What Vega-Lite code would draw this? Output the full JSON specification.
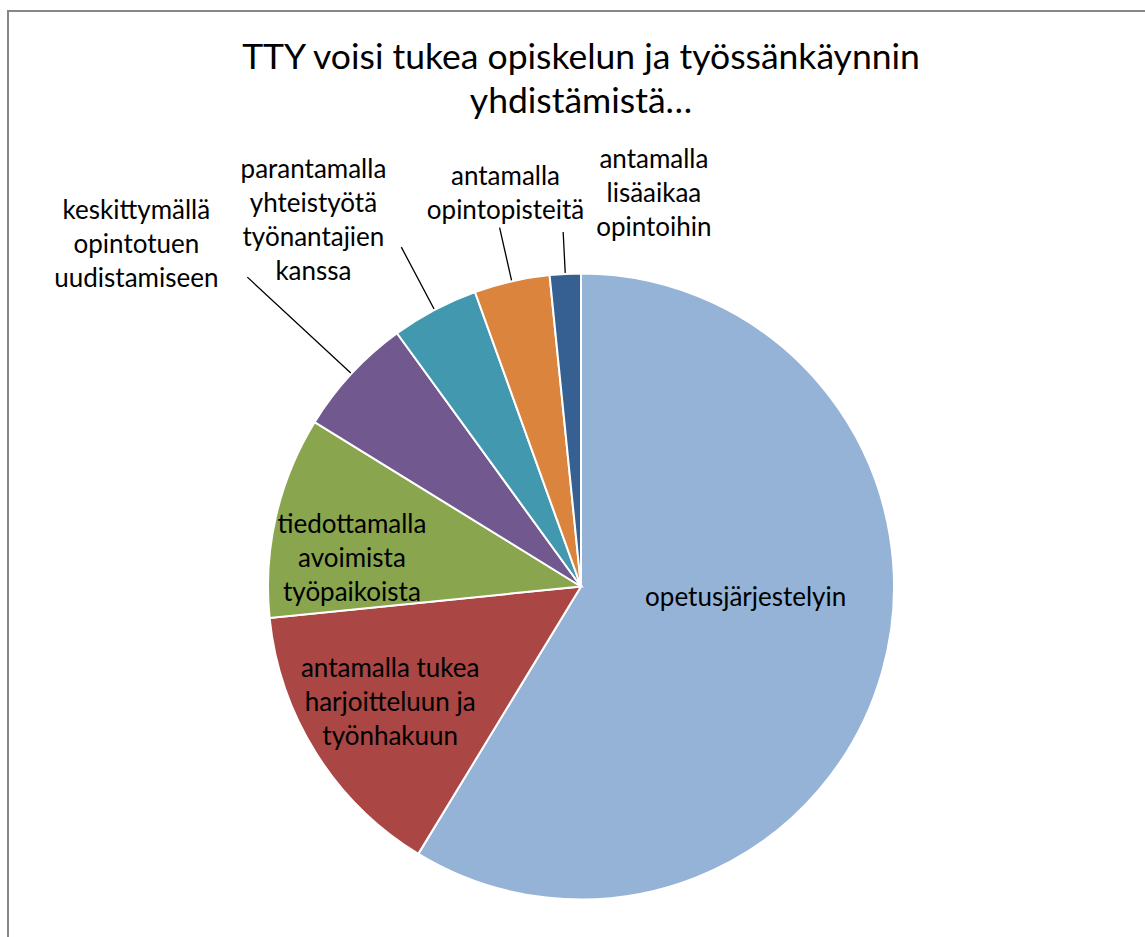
{
  "$schema": "https://vega.github.io/schema/vega-lite/v6.json",
  "autosize": "none",
  "width": 1146,
  "height": 1151,
  "padding": {"left": 8, "top": 11, "right": -9, "bottom": -225},
  "background": "white",
  "config": {
    "view": {"stroke": "#878787", "strokeWidth": 2},
    "style": {
      "view": {"stroke": "#878787", "strokeWidth": 2},
      "cell": {"stroke": "#878787", "strokeWidth": 2}
    },
    "text": {"font": "Lato", "fontSize": 26, "color": "black", "lineBreak": "\n", "lineHeight": 34}
  },
  "title": {
    "text": ["TTY voisi tukea opiskelun ja työssänkäynnin", "yhdistämistä…"],
    "font": "Lato",
    "fontSize": 35.5,
    "fontWeight": "normal",
    "color": "black",
    "anchor": "middle",
    "lineHeight": 44,
    "offset": -109
  },
  "data": {
    "values": [
      {"label": "opetusjärjestelyin", "text": "opetusjärjestelyin", "value": 58.7},
      {"label": "antamalla tukea harjoitteluun ja työnhakuun", "text": "antamalla tukea\nharjoitteluun ja\ntyönhakuun", "value": 14.7},
      {"label": "tiedottamalla avoimista työpaikoista", "text": "tiedottamalla\navoimista\ntyöpaikoista", "value": 10.4},
      {"label": "keskittymällä opintotuen uudistamiseen", "text": "keskittymällä\nopintotuen\nuudistamiseen", "value": 6.2},
      {"label": "parantamalla yhteistyötä työnantajien kanssa", "text": "parantamalla\nyhteistyötä\ntyönantajien\nkanssa", "value": 4.5},
      {"label": "antamalla opintopisteitä", "text": "antamalla\nopintopisteitä", "value": 3.9},
      {"label": "antamalla lisäaikaa opintoihin", "text": "antamalla\nlisäaikaa\nopintoihin", "value": 1.6}
    ]
  },
  "encoding": {
    "theta": {"field": "value", "type": "quantitative", "stack": true},
    "order": {"field": "value", "type": "quantitative", "sort": "descending"}
  },
  "layer": [
    {
      "mark": {"type": "arc", "radius": 313, "stroke": "white", "strokeWidth": 2},
      "encoding": {
        "color": {
          "field": "label",
          "type": "nominal",
          "legend": null,
          "scale": {
            "domain": ["opetusjärjestelyin", "antamalla tukea harjoitteluun ja työnhakuun", "tiedottamalla avoimista työpaikoista", "keskittymällä opintotuen uudistamiseen", "parantamalla yhteistyötä työnantajien kanssa", "antamalla opintopisteitä", "antamalla lisäaikaa opintoihin"],
            "range": ["#95B3D7", "#AA4643", "#89A54E", "#71588F", "#4198AF", "#DB843D", "#376092"]
          }
        }
      }
    },
    {
      "mark": {"type": "arc", "radius": 455, "radius2": 314, "padAngle": 1.4, "fillOpacity": 0, "stroke": "black", "strokeWidth": 1.3},
      "encoding": {"strokeOpacity": {"condition": {"test": "datum.label === 'keskittymällä opintotuen uudistamiseen'", "value": 1}, "value": 0}}
    },
    {
      "mark": {"type": "arc", "radius": 384, "radius2": 314, "padAngle": 1.4, "fillOpacity": 0, "stroke": "black", "strokeWidth": 1.3},
      "encoding": {"strokeOpacity": {"condition": {"test": "datum.label === 'parantamalla yhteistyötä työnantajien kanssa'", "value": 1}, "value": 0}}
    },
    {
      "mark": {"type": "arc", "radius": 368, "radius2": 314, "padAngle": 1.4, "fillOpacity": 0, "stroke": "black", "strokeWidth": 1.3},
      "encoding": {"strokeOpacity": {"condition": {"test": "datum.label === 'antamalla opintopisteitä'", "value": 1}, "value": 0}}
    },
    {
      "mark": {"type": "arc", "radius": 355, "radius2": 314, "padAngle": 1.4, "fillOpacity": 0, "stroke": "black", "strokeWidth": 1.3},
      "encoding": {"strokeOpacity": {"condition": {"test": "datum.label === 'antamalla lisäaikaa opintoihin'", "value": 1}, "value": 0}}
    },
    {
      "mark": {"type": "text", "radius": 170, "dx": 1, "dy": -34},
      "encoding": {"text": {"field": "text"}, "opacity": {"condition": {"test": "datum.label === 'opetusjärjestelyin'", "value": 1}, "value": 0}}
    },
    {
      "mark": {"type": "text", "radius": 222, "dx": -3, "dy": -36},
      "encoding": {"text": {"field": "text"}, "opacity": {"condition": {"test": "datum.label === 'antamalla tukea harjoitteluun ja työnhakuun'", "value": 1}, "value": 0}}
    },
    {
      "mark": {"type": "text", "radius": 232, "dx": -3, "dy": -9},
      "encoding": {"text": {"field": "text"}, "opacity": {"condition": {"test": "datum.label === 'tiedottamalla avoimista työpaikoista'", "value": 1}, "value": 0}}
    },
    {
      "mark": {"type": "text", "radius": 500, "dx": -78, "dy": -36},
      "encoding": {"text": {"field": "text"}, "opacity": {"condition": {"test": "datum.label === 'keskittymällä opintotuen uudistamiseen'", "value": 1}, "value": 0}}
    },
    {
      "mark": {"type": "text", "radius": 450, "dx": -57, "dy": -19},
      "encoding": {"text": {"field": "text"}, "opacity": {"condition": {"test": "datum.label === 'parantamalla yhteistyötä työnantajien kanssa'", "value": 1}, "value": 0}}
    },
    {
      "mark": {"type": "text", "radius": 400, "dx": 13, "dy": -19},
      "encoding": {"text": {"field": "text"}, "opacity": {"condition": {"test": "datum.label === 'antamalla opintopisteitä'", "value": 1}, "value": 0}}
    },
    {
      "mark": {"type": "text", "radius": 400, "dx": 93, "dy": -27},
      "encoding": {"text": {"field": "text"}, "opacity": {"condition": {"test": "datum.label === 'antamalla lisäaikaa opintoihin'", "value": 1}, "value": 0}}
    }
  ]
}
